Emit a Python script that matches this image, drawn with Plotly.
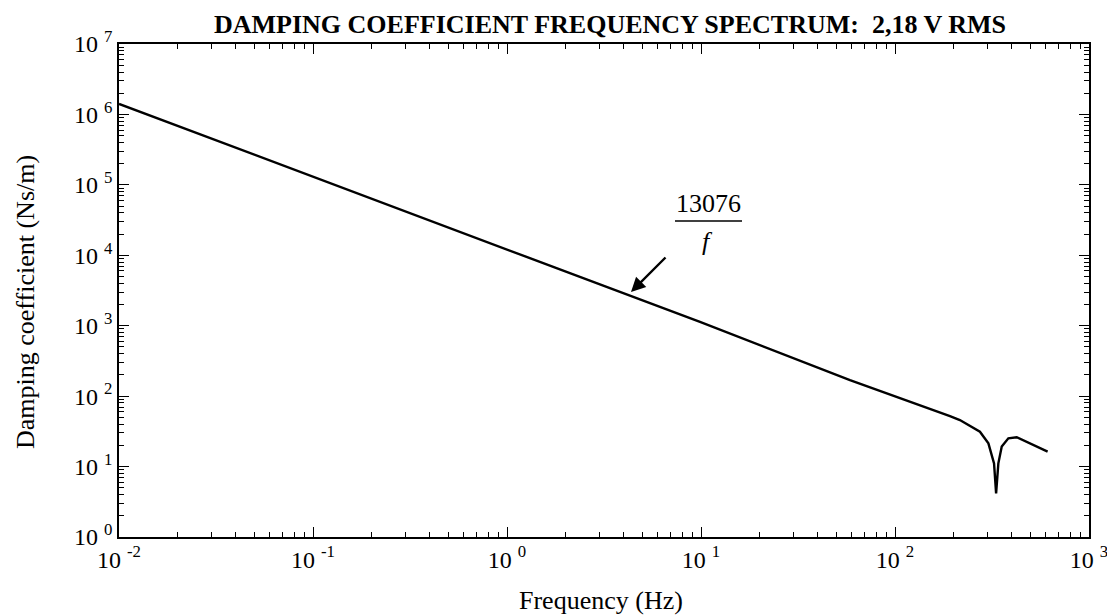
import plotly.graph_objects as go

# Data (frequency in Hz, damping coefficient in Ns/m)
freq = [0.01, 1.875, 9.88, 58.6, 134.5, 192, 216, 274, 303, 324, 332, 341, 355, 384, 424, 496, 612]
damping = [1.41e6, 6400, 1130, 169, 74.8, 52, 45.8, 31.3, 21.4, 11.1, 4.17, 11.1, 19.2, 25.2, 26.1, 21.4, 16.3]

x_tickvals = [0.01, 0.1, 1, 10, 100, 1000]
x_ticktext = ["10 <sup>-2</sup>", "10 <sup>-1</sup>", "10 <sup>0</sup>", "10 <sup>1</sup>", "10 <sup>2</sup>", "10 <sup>3</sup>"]
y_tickvals = [1, 10, 100, 1e3, 1e4, 1e5, 1e6, 1e7]
y_ticktext = ["10 <sup>0</sup>", "10 <sup>1</sup>", "10 <sup>2</sup>", "10 <sup>3</sup>", "10 <sup>4</sup>", "10 <sup>5</sup>", "10 <sup>6</sup>", "10 <sup>7</sup>"]

FONT = "Liberation Serif, Times New Roman, DejaVu Serif, serif"
L, R, T, B = 119, 18, 44, 78
W, H = 1107, 615
pw, ph = W - L - R, H - T - B

def px(x):
    return (x - L) / pw

def py(y):
    return (H - B - y) / ph

fig = go.Figure()
fig.add_trace(go.Scatter(x=freq, y=damping, mode="lines",
                         line=dict(color="black", width=2.4), showlegend=False))

axis_common = dict(
    type="log", showgrid=False, zeroline=False, showline=True, linecolor="black",
    linewidth=1.5, mirror="allticks", ticks="inside", ticklen=10, tickwidth=1.2,
    tickcolor="black", tickmode="array", ticklabeloverflow="allow", automargin=False,
    tickfont=dict(family=FONT, size=24, color="black"),
    minor=dict(ticks="inside", ticklen=5, tickwidth=1, tickcolor="black", dtick="D1", showgrid=False),
)

fig.update_xaxes(range=[-2, 3], tickvals=x_tickvals, ticktext=x_ticktext, **axis_common)
fig.update_yaxes(range=[0, 7], tickvals=y_tickvals, ticktext=y_ticktext, **axis_common)

annotations = [
    dict(text="Frequency (Hz)", x=px(601), y=py(600), xref="paper", yref="paper",
         showarrow=False, font=dict(family=FONT, size=26, color="black"),
         xanchor="center", yanchor="middle"),
    dict(text="Damping coefficient (Ns/m)", x=px(25), y=py(302), xref="paper", yref="paper",
         showarrow=False, textangle=-90, font=dict(family=FONT, size=26, color="black"),
         xanchor="center", yanchor="middle"),
    dict(text="13076", x=px(708), y=py(203), xref="paper", yref="paper",
         showarrow=False, font=dict(family=FONT, size=26, color="black"),
         xanchor="center", yanchor="middle"),
    dict(text="<i>f</i>", x=px(707), y=py(241), xref="paper", yref="paper",
         showarrow=False, font=dict(family=FONT, size=26, color="black"),
         xanchor="center", yanchor="middle"),
    dict(text="", x=px(631), y=py(292), xref="paper", yref="paper",
         showarrow=True, ax=36, ay=-36, arrowhead=2, arrowsize=1.2, arrowwidth=2.4,
         arrowcolor="black"),
]

fig.add_shape(type="line", xref="paper", yref="paper",
              x0=px(675), x1=px(742), y0=py(221), y1=py(221),
              line=dict(color="black", width=1.5))

fig.update_layout(
    width=W, height=H,
    margin=dict(l=L, r=R, t=T, b=B, autoexpand=False),
    paper_bgcolor="white", plot_bgcolor="white",
    title=dict(text="<b>DAMPING COEFFICIENT FREQUENCY SPECTRUM:  2,18 V RMS</b>",
               x=px(610), xref="paper", xanchor="center",
               y=1 - 24 / H, yref="container", yanchor="middle",
               font=dict(family=FONT, size=26, color="black")),
    annotations=annotations,
    font=dict(family=FONT, color="black"),
)

fig.write_html("out.html")
